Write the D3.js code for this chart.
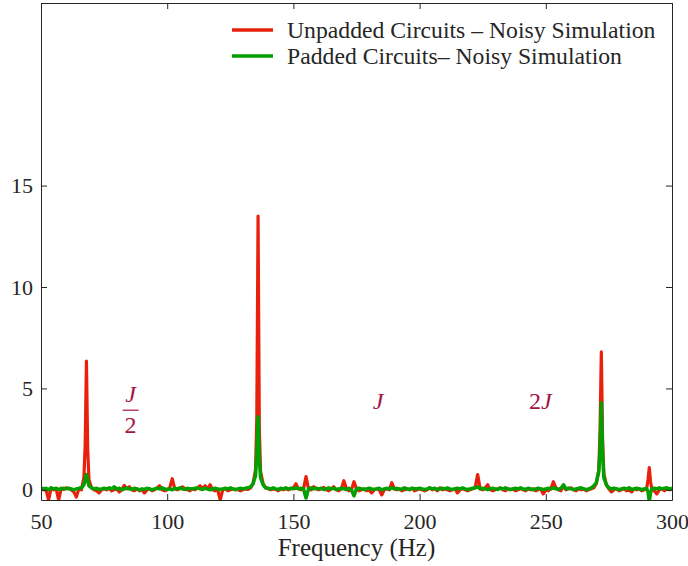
<!DOCTYPE html>
<html>
<head>
<meta charset="utf-8">
<script src="https://cdn.jsdelivr.net/npm/d3@7"></script>
<style>
  body { margin: 0; background: #fff; }
  text { font-family: "Liberation Serif", "DejaVu Serif", serif; fill: #262626; }
</style>
</head>
<body>
<div id="chart"></div>
<script>
// frequency samples (Hz), extra samples around the peaks
var hz = [
  50,51,52,53,54,55,56,57,58,59,
  60,61,62,63,64,65,66,67,67.5,68,68.5,69,
  70,71,72,73,74,75,76,77,78,79,
  80,81,82,83,84,85,86,87,88,89,
  90,91,92,93,94,95,96,97,98,99,
  100,101,102,103,104,105,106,107,108,109,
  110,111,112,113,114,115,116,117,118,119,
  120,121,122,123,124,125,126,127,128,129,
  130,131,132,133,134,135,135.5,136,136.5,137,138,139,
  140,141,142,143,144,145,146,147,148,149,
  150,151,152,153,154,155,156,157,158,159,
  160,161,162,163,164,165,166,167,168,169,
  170,171,172,173,174,175,176,177,178,179,
  180,181,182,183,184,185,186,187,188,189,
  190,191,192,193,194,195,196,197,198,199,
  200,201,202,203,204,205,206,207,208,209,
  210,211,212,213,214,215,216,217,218,219,
  220,221,222,223,224,225,226,227,228,229,
  230,231,232,233,234,235,236,237,238,239,
  240,241,242,243,244,245,246,247,248,249,
  250,251,252,253,254,255,256,257,258,259,
  260,261,262,263,264,265,266,267,268,269,
  270,271,271.5,272,272.5,273,274,275,276,277,278,279,
  280,281,282,283,284,285,286,287,288,289,
  290,290.5,291,291.5,292,293,294,295,296,297,298,299,300
];

var unpadded = [
  0.05,0.0,0.02,-0.5,0.08,0.0,0.05,-0.5,0.08,0.02,
  0.1,0.05,0.0,-0.1,-0.35,0.05,0.0,0.6,2.2,6.35,2.0,0.5,
  0.1,0.0,-0.05,-0.15,0.0,0.05,0.0,0.08,-0.05,0.0,
  0.05,-0.1,0.0,0.22,0.05,0.15,0.0,-0.05,0.05,-0.05,
  0.0,-0.15,0.0,0.05,-0.05,0.0,0.1,0.2,0.0,-0.05,
  0.0,0.1,0.55,0.05,0.0,0.05,0.15,0.05,0.0,-0.05,
  0.05,0.0,0.1,0.2,0.05,0.2,0.05,0.25,0.0,-0.05,
  0.0,-0.5,0.0,0.05,-0.05,0.0,0.05,0.0,0.02,-0.05,
  0.0,0.05,0.02,0.1,0.3,1.0,3.5,13.5,3.0,0.9,0.3,0.1,
  0.05,0.0,0.05,0.02,-0.05,0.05,0.0,0.05,0.0,0.05,
  0.1,0.3,0.05,0.0,0.05,0.65,0.05,0.0,0.15,0.05,
  0.0,0.05,0.12,0.0,-0.05,0.05,0.15,0.0,-0.05,0.05,
  0.45,0.05,-0.05,0.0,0.4,0.05,-0.05,0.0,0.05,-0.05,
  0.0,-0.15,0.0,0.05,0.0,-0.25,0.0,0.05,0.0,0.35,
  0.05,0.0,0.05,-0.05,0.0,0.05,0.0,0.08,-0.05,0.0,
  0.05,0.0,-0.05,0.0,0.1,0.0,0.05,-0.05,0.1,0.0,
  0.05,0.0,-0.05,0.0,0.05,-0.15,0.0,0.05,0.0,-0.05,
  0.0,0.05,0.1,0.75,0.05,0.0,0.1,0.25,0.0,-0.05,
  0.0,0.05,0.1,0.0,-0.05,0.05,0.0,0.05,-0.05,0.0,
  0.05,0.0,-0.05,0.05,0.0,0.05,-0.05,0.0,0.05,-0.2,
  0.0,-0.05,0.05,0.4,0.1,0.0,-0.05,0.2,0.0,0.05,
  0.1,0.0,-0.05,0.05,0.0,0.05,-0.05,0.0,0.05,0.1,
  0.3,1.0,3.0,6.8,2.5,0.8,0.25,0.05,-0.1,0.0,0.05,-0.05,
  0.0,0.05,-0.05,0.0,-0.1,0.05,0.0,0.05,-0.05,0.0,
  0.1,0.5,1.1,0.4,0.05,-0.05,-0.2,0.0,0.05,-0.05,0.05,0.0,0.05
];

var padded = [
  0.1,0.05,0.08,0.0,0.1,0.05,0.08,0.02,0.05,0.08,
  0.05,0.08,0.05,0.0,0.05,0.08,0.1,0.25,0.5,0.75,0.45,0.2,
  0.1,0.05,0.08,0.02,0.05,0.08,0.05,0.1,0.05,0.15,
  0.05,0.08,0.0,0.05,0.1,0.05,0.02,0.08,0.05,0.0,
  0.05,0.02,0.08,0.05,0.0,0.05,0.08,0.05,0.1,0.05,
  0.02,0.05,0.0,0.08,0.05,0.1,0.05,0.02,0.08,0.05,
  0.05,0.08,0.1,0.05,0.02,0.08,0.05,0.0,0.05,0.08,
  0.05,0.02,0.05,0.08,0.05,0.1,0.05,0.02,0.05,0.08,
  0.05,0.08,0.1,0.15,0.3,0.7,1.8,3.6,1.5,0.6,0.25,0.1,
  0.08,0.05,0.1,0.05,0.02,0.08,0.05,0.1,0.05,0.08,
  0.05,0.1,0.05,0.08,0.05,-0.4,0.05,0.1,0.05,0.08,
  0.05,0.08,0.02,0.05,0.1,0.05,0.08,0.02,0.05,0.08,
  0.05,0.02,0.08,0.0,-0.3,0.05,0.08,0.05,0.02,0.05,
  0.08,0.05,0.02,0.05,0.08,0.0,0.05,0.08,0.05,0.1,
  0.05,0.08,0.02,0.05,0.1,0.05,0.02,0.08,0.05,0.05,
  0.08,0.05,0.02,0.05,0.1,0.05,0.08,0.02,0.05,0.08,
  0.05,0.1,0.05,0.02,0.05,0.08,0.05,0.1,0.05,0.02,
  0.05,0.08,0.1,0.15,0.05,0.08,0.05,0.02,0.05,0.08,
  0.05,0.02,0.08,0.05,0.1,0.05,0.02,0.05,0.08,0.05,
  0.1,0.05,0.02,0.08,0.05,0.0,0.05,0.08,0.05,0.02,
  0.05,0.08,0.05,0.1,0.05,0.02,0.08,0.25,0.05,0.08,
  0.05,0.02,0.05,0.08,0.1,0.05,0.02,0.05,0.1,0.2,
  0.35,0.9,2.0,4.3,1.8,0.6,0.25,0.1,0.05,0.08,0.05,0.02,
  0.05,0.08,0.05,0.1,0.02,0.05,0.08,0.05,0.02,0.05,
  0.05,-0.1,-0.55,-0.15,0.05,0.08,0.05,0.1,0.05,0.08,0.1,0.05,0.08
];

var xTicks = [50, 100, 150, 200, 250, 300];
var yTicks = [0, 5, 10, 15];
var seriesNames = ["Unpadded Circuits \u2013 Noisy Simulation", "Padded Circuits\u2013 Noisy Simulation"];
var seriesColors = ["#e8200c", "#00a000"];
var seriesWidths = [3.2, 3.5];

var w = 688, h = 566,
    margin = {top: 3, right: 16, bottom: 66, left: 41},
    iw = w - margin.left - margin.right,
    ih = h - margin.top - margin.bottom;

var svg = d3.select("#chart").append("svg")
    .attr("width", w)
    .attr("height", h);

var x = d3.scaleLinear().domain([50, 300]).range([0, iw]);
var y = d3.scaleLinear().domain([-0.5, 24]).range([ih, 0]);

var g = svg.append("g")
    .attr("transform", "translate(" + margin.left + "," + margin.top + ")");

g.append("clipPath").attr("id", "plot-clip")
  .append("rect").attr("width", iw).attr("height", ih);

// series lines, red first so green sits on top
var series = [unpadded, padded];
var line = d3.line()
    .x(function(d) { return x(d[0]); })
    .y(function(d) { return y(d[1]); });

series.forEach(function(vals, k) {
  g.append("path")
    .datum(hz.map(function(f, i) { return [f, vals[i]]; }))
    .attr("clip-path", "url(#plot-clip)")
    .attr("fill", "none")
    .attr("stroke", seriesColors[k])
    .attr("stroke-width", seriesWidths[k])
    .attr("stroke-linejoin", "round")
    .attr("d", line);
});

// axes: ticks inward on all four sides, box around
var axisColor = "#262626";
var axB = g.append("g").attr("transform", "translate(0," + ih + ")")
    .call(d3.axisBottom(x).tickValues(xTicks).tickSizeInner(-6).tickSizeOuter(0).tickPadding(12));
var axT = g.append("g")
    .call(d3.axisTop(x).tickValues(xTicks).tickSizeInner(-6).tickSizeOuter(0).tickFormat(""));
var axL = g.append("g")
    .call(d3.axisLeft(y).tickValues(yTicks).tickSizeInner(-6).tickSizeOuter(0).tickPadding(8));
var axR = g.append("g").attr("transform", "translate(" + iw + ",0)")
    .call(d3.axisRight(y).tickValues(yTicks).tickSizeInner(-6).tickSizeOuter(0).tickFormat(""));

[axB, axT, axL, axR].forEach(function(a) {
  a.select(".domain").attr("stroke", axisColor).attr("stroke-width", 1);
  a.selectAll(".tick line").attr("stroke", axisColor);
  a.selectAll(".tick text")
    .attr("fill", axisColor)
    .style("font-size", "22px")
    .style("font-family", "Liberation Serif, serif");
});
axB.selectAll(".tick text").attr("dy", "0.78em");

g.append("text")
    .attr("x", iw / 2)
    .attr("y", ih + 56)
    .attr("text-anchor", "middle")
    .style("font-size", "25px")
    .text("Frequency (Hz)");

// legend
var legend = g.append("g").attr("transform", "translate(191,27)");
seriesNames.forEach(function(name, k) {
  var row = legend.append("g").attr("transform", "translate(0," + (k * 26) + ")");
  row.append("line")
    .attr("x1", 0).attr("x2", 41)
    .attr("stroke", seriesColors[k])
    .attr("stroke-width", 3.5);
  row.append("text")
    .attr("x", 55).attr("y", 7.5)
    .style("font-size", "23.7px")
    .text(name);
});

// peak annotations
var noteColor = "#a3153f";
var noteSize = "24px";
var half = g.append("g")
    .attr("transform", "translate(" + x(85.5) + "," + y(4.1) + ")");
half.append("text").attr("y", -5).attr("text-anchor", "middle")
    .style("font-style", "italic").style("font-size", noteSize)
    .style("fill", noteColor).text("J");
half.append("line").attr("x1", -8).attr("x2", 8).attr("y1", 3.5).attr("y2", 3.5)
    .attr("stroke", noteColor).attr("stroke-width", 1.2);
half.append("text").attr("y", 26).attr("text-anchor", "middle")
    .style("font-size", noteSize).style("fill", noteColor).text("2");

g.append("text")
    .attr("x", x(183.5)).attr("y", y(4.1) + 2)
    .attr("text-anchor", "middle")
    .style("font-style", "italic").style("font-size", noteSize)
    .style("fill", noteColor).text("J");

var twoJ = g.append("text")
    .attr("x", x(247.8)).attr("y", y(4.1) + 2)
    .attr("text-anchor", "middle")
    .style("font-size", noteSize).style("fill", noteColor);
twoJ.append("tspan").text("2");
twoJ.append("tspan").style("font-style", "italic").text("J");
</script>
</body>
</html>
